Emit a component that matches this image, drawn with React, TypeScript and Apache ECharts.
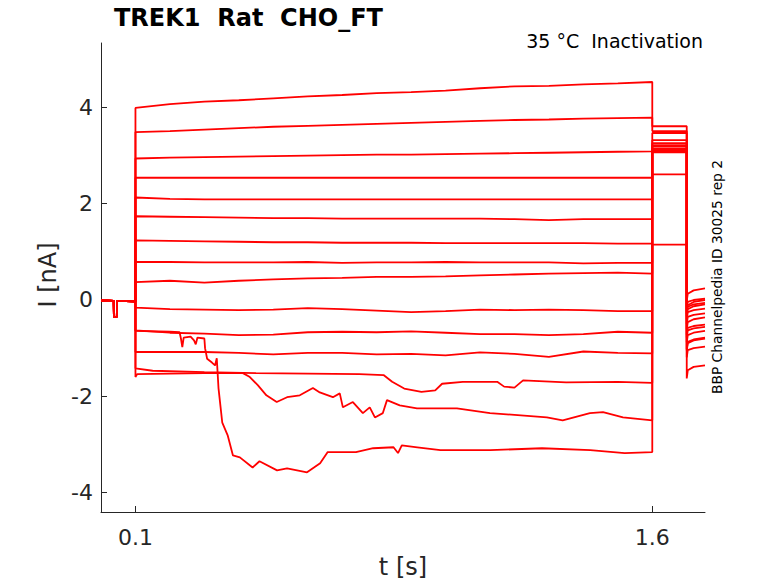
import React, { useEffect, useRef } from "react";
import * as echarts from "echarts";

// ---------- data ----------
const HOLD_T = [0, 0.037, 0.0375, 0.046, 0.0465, 0.1];
const HOLD_V = [-0.01, -0.02, -0.35, -0.35, -0.02, -0.03];

const PRE_T = [0.1, 0.2, 0.3, 0.4, 0.5, 0.6, 0.7, 0.8, 0.9, 1.0, 1.1, 1.2, 1.3, 1.4, 1.5, 1.6];
const SWEEP_A = [3.99, 4.07, 4.12, 4.15, 4.19, 4.23, 4.26, 4.3, 4.32, 4.35, 4.4, 4.44, 4.45, 4.48, 4.5, 4.53];
const SWEEP_B = [3.49, 3.51, 3.54, 3.57, 3.6, 3.62, 3.64, 3.66, 3.68, 3.7, 3.72, 3.74, 3.75, 3.77, 3.78, 3.79];
const SWEEP_C = [2.94, 2.96, 2.97, 2.98, 2.99, 3.0, 3.01, 3.02, 3.02, 3.03, 3.04, 3.05, 3.06, 3.07, 3.08, 3.09];
const SWEEP_D = [2.54, 2.54, 2.54, 2.54, 2.54, 2.54, 2.54, 2.54, 2.54, 2.54, 2.54, 2.54, 2.54, 2.54, 2.54, 2.54];
const SWEEP_E = [2.13, 2.1, 2.09, 2.09, 2.09, 2.09, 2.09, 2.09, 2.09, 2.09, 2.09, 2.09, 2.09, 2.09, 2.09, 2.09];
const SWEEP_F = [1.74, 1.73, 1.72, 1.71, 1.7, 1.7, 1.69, 1.69, 1.69, 1.69, 1.69, 1.68, 1.66, 1.68, 1.68, 1.68];
const SWEEP_G = [1.24, 1.23, 1.22, 1.21, 1.2, 1.2, 1.19, 1.19, 1.19, 1.18, 1.18, 1.18, 1.18, 1.18, 1.17, 1.17];
const SWEEP_H = [0.79, 0.79, 0.78, 0.78, 0.78, 0.79, 0.77, 0.78, 0.78, 0.79, 0.78, 0.78, 0.78, 0.76, 0.77, 0.77];
const SWEEP_I = [0.37, 0.4, 0.36, 0.4, 0.43, 0.45, 0.46, 0.48, 0.48, 0.49, 0.51, 0.53, 0.55, 0.56, 0.57, 0.55];
const SWEEP_J = [-0.16, -0.19, -0.2, -0.21, -0.2, -0.17, -0.19, -0.22, -0.25, -0.23, -0.2, -0.21, -0.2, -0.21, -0.23, -0.23];
const SWEEP_K = [-0.63, -0.68, -0.7, -0.73, -0.72, -0.67, -0.66, -0.67, -0.65, -0.68, -0.71, -0.71, -0.73, -0.71, -0.66, -0.68];
const SWEEP_L = [-1.08, -1.08, -1.08, -1.1, -1.13, -1.1, -1.1, -1.13, -1.12, -1.15, -1.09, -1.12, -1.18, -1.07, -1.1, -1.11];

const M_T = [0.1, 0.15, 0.3, 0.45, 0.6, 0.75, 0.82, 0.845, 0.88, 0.93, 0.97, 0.99, 1.05, 1.15, 1.17, 1.2, 1.225, 1.35, 1.5, 1.6];
const M_V = [-1.42, -1.47, -1.5, -1.52, -1.53, -1.54, -1.56, -1.7, -1.84, -1.91, -1.88, -1.74, -1.7, -1.7, -1.8, -1.82, -1.67, -1.71, -1.7, -1.72];

const N_T = [0.1, 0.105, 0.2, 0.3, 0.412, 0.432, 0.455, 0.48, 0.51, 0.54, 0.577, 0.615, 0.635, 0.673, 0.693, 0.702, 0.731, 0.76, 0.78, 0.795, 0.818, 0.83, 0.867, 0.917, 0.983, 1.033, 1.129, 1.294, 1.34, 1.419, 1.457, 1.515, 1.6];
const N_V = [-1.6, -1.54, -1.53, -1.52, -1.52, -1.6, -1.77, -1.98, -2.12, -2.02, -1.98, -1.83, -1.92, -2.02, -1.94, -2.23, -2.12, -2.35, -2.23, -2.44, -2.35, -2.08, -2.19, -2.25, -2.25, -2.25, -2.35, -2.44, -2.5, -2.35, -2.33, -2.44, -2.5];

const K2_T = [0.1, 0.2, 0.228, 0.232, 0.236, 0.24, 0.26, 0.27, 0.275, 0.28, 0.3, 0.302, 0.308, 0.322, 0.331, 0.336, 0.341, 0.352, 0.368, 0.383, 0.403, 0.44, 0.46, 0.511, 0.54, 0.598, 0.636, 0.658, 0.69, 0.74, 0.79, 0.849, 0.862, 0.873, 0.918, 0.985, 1.13, 1.28, 1.42, 1.52, 1.6];
const K2_V = [-0.64, -0.66, -0.67, -0.8, -0.98, -0.78, -0.76, -0.84, -0.92, -0.78, -0.8, -1.0, -1.22, -1.3, -1.36, -1.21, -1.83, -2.55, -2.82, -3.23, -3.27, -3.48, -3.35, -3.54, -3.5, -3.58, -3.39, -3.16, -3.16, -3.16, -3.08, -3.06, -3.18, -3.02, -3.06, -3.12, -3.12, -3.08, -3.12, -3.18, -3.16];

// test pulse (1.6 - 1.7 s) levels, one per sweep
const TEST_T = [1.6, 1.7];
const TEST_LEVELS = [3.61, 3.51, 3.47, 3.32, 3.26, 3.22, 3.19, 3.15, 3.12, 3.1, 3.08, 3.07, 3.14, 2.61, 1.15];

// tail after the test pulse
const TAIL_T = [1.7, 1.703, 1.72, 1.753];
const TAIL_A = [-0.02, 0.13, 0.2, 0.24];
const TAIL_B = [-0.19, -0.04, 0.0, 0.03];
const TAIL_C = [-0.26, -0.11, -0.04, 0.0];
const TAIL_D = [-0.29, -0.14, -0.09, -0.06];
const TAIL_E = [-0.34, -0.19, -0.13, -0.09];
const TAIL_F = [-0.4, -0.25, -0.21, -0.18];
const TAIL_G = [-0.5, -0.35, -0.31, -0.28];
const TAIL_H = [-0.61, -0.46, -0.4, -0.36];
const TAIL_I = [-0.78, -0.63, -0.59, -0.56];
const TAIL_J = [-0.88, -0.73, -0.68, -0.64];
const TAIL_K = [-1.02, -0.87, -0.82, -0.78];
const TAIL_L = [-1.19, -1.04, -1.0, -0.97];
const TAIL_M = [-0.72, -0.58, -0.54, -0.51];
const TAIL_N = [-1.05, -0.9, -0.84, -0.8];
const TAIL_K2 = [-1.63, -1.46, -1.39, -1.36];

const X_TICKS = [0.1, 1.6];
const Y_TICKS = [-4, -2, 0, 2, 4];

const TITLE = "TREK1  Rat  CHO_FT";
const SUBTITLE = "35 °C  Inactivation";
const SIDE_NOTE = "BBP Channelpedia ID 30025 rep 2";
const X_NAME = "t [s]";
const Y_NAME = "I [nA]";

// ---------- build sweeps ----------
type Pre = { t: number[]; v: number[] };
const PRE_SETS: Pre[] = [
  { t: PRE_T, v: SWEEP_A },
  { t: PRE_T, v: SWEEP_B },
  { t: PRE_T, v: SWEEP_C },
  { t: PRE_T, v: SWEEP_D },
  { t: PRE_T, v: SWEEP_E },
  { t: PRE_T, v: SWEEP_F },
  { t: PRE_T, v: SWEEP_G },
  { t: PRE_T, v: SWEEP_H },
  { t: PRE_T, v: SWEEP_I },
  { t: PRE_T, v: SWEEP_J },
  { t: PRE_T, v: SWEEP_K },
  { t: PRE_T, v: SWEEP_L },
  { t: M_T, v: M_V },
  { t: N_T, v: N_V },
  { t: K2_T, v: K2_V },
];
const TAILS = [TAIL_A, TAIL_B, TAIL_C, TAIL_D, TAIL_E, TAIL_F, TAIL_G, TAIL_H, TAIL_I, TAIL_J, TAIL_K, TAIL_L, TAIL_M, TAIL_N, TAIL_K2];

function buildSweep(i: number): number[][] {
  const pts: number[][] = [];
  HOLD_T.forEach((t, k) => pts.push([t, HOLD_V[k]]));
  const p = PRE_SETS[i];
  p.t.forEach((t, k) => pts.push([t, p.v[k]]));
  TEST_T.forEach((t) => pts.push([t, TEST_LEVELS[i]]));
  TAIL_T.forEach((t, k) => pts.push([t, TAILS[i][k]]));
  return pts;
}

const FONT = '"DejaVu Sans", "Liberation Sans", sans-serif';
const TXT = "#262626";

export default function App() {
  const ref = useRef<HTMLDivElement>(null);
  useEffect(() => {
    document.body.style.margin = "0";
    if (!ref.current) return;
    const chart = echarts.init(ref.current, undefined, { renderer: "svg" });
    const series = PRE_SETS.map((_, i) => ({
      type: "line" as const,
      data: buildSweep(i),
      symbol: "none",
      showSymbol: false,
      silent: true,
      clip: true,
      lineStyle: { color: "#ff0000", width: 1.8 },
      itemStyle: { color: "#ff0000" },
    }));
    chart.setOption({
      animation: false,
      backgroundColor: "#ffffff",
      grid: { left: 101, right: 73, top: 43, bottom: 71, containLabel: false },
      xAxis: {
        type: "value",
        min: 0,
        max: 1.753,
        axisLine: { show: true, onZero: false, lineStyle: { color: TXT, width: 1 } },
        axisTick: { show: true, inside: true, length: 6, customValues: X_TICKS, lineStyle: { color: TXT } },
        axisLabel: {
          customValues: X_TICKS,
          fontSize: 22,
          color: TXT,
          fontFamily: FONT,
          margin: 14,
          formatter: (v: number) => String(v),
        },
        splitLine: { show: false },
      },
      yAxis: {
        type: "value",
        min: -4.405,
        max: 5.34,
        axisLine: { show: true, onZero: false, lineStyle: { color: TXT, width: 1 } },
        axisTick: { show: true, inside: true, length: 6, customValues: Y_TICKS, lineStyle: { color: TXT } },
        axisLabel: {
          customValues: Y_TICKS,
          fontSize: 22,
          color: TXT,
          fontFamily: FONT,
          margin: 8,
          formatter: (v: number) => String(v),
        },
        splitLine: { show: false },
      },
      graphic: [
        {
          type: "text",
          x: 114,
          y: 18,
          style: { text: TITLE, font: `bold 24px ${FONT}`, fill: "#000", align: "left", verticalAlign: "middle" },
        },
        {
          type: "text",
          x: 703,
          y: 41,
          style: { text: SUBTITLE, font: `19px ${FONT}`, fill: "#000", align: "right", verticalAlign: "middle" },
        },
        {
          type: "text",
          x: 717,
          y: 277,
          rotation: Math.PI / 2,
          style: { text: SIDE_NOTE, font: `13.8px ${FONT}`, fill: "#000", align: "center", verticalAlign: "middle" },
        },
        {
          type: "text",
          x: 48,
          y: 275,
          rotation: Math.PI / 2,
          style: { text: Y_NAME, font: `24px ${FONT}`, fill: TXT, align: "center", verticalAlign: "middle" },
        },
        {
          type: "text",
          x: 403,
          y: 567,
          style: { text: X_NAME, font: `24px ${FONT}`, fill: TXT, align: "center", verticalAlign: "middle" },
        },
      ],
      series,
    });
    return () => chart.dispose();
  }, []);
  return <div ref={ref} style={{ position: "absolute", left: 0, top: 0, width: 778, height: 583 }} />;
}
